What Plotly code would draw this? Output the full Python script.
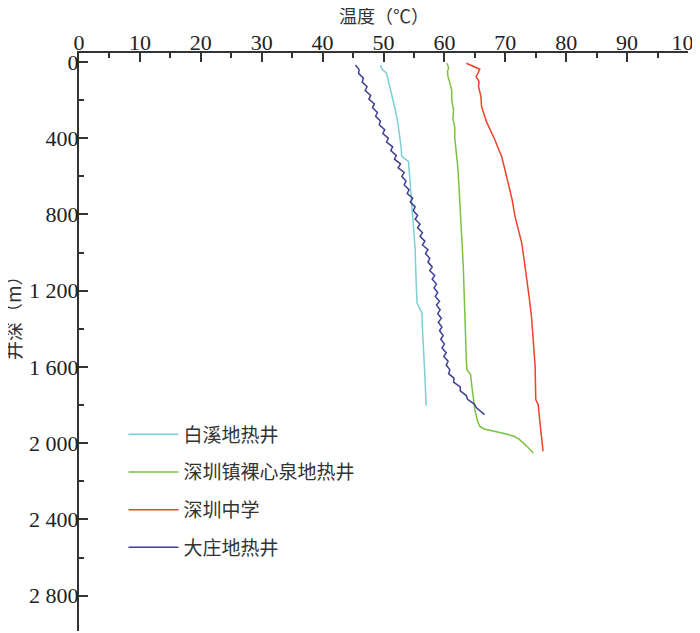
import plotly.graph_objects as go

# 白溪地热井
baixi_depth = [16, 40, 59, 100, 150, 199, 260, 330, 391, 450, 496, 510, 522, 600, 723, 850, 985,
               1100, 1200, 1264, 1290, 1316, 1400, 1509, 1650, 1803]
baixi_temp = [49.5, 49.8, 50.5, 50.8, 51.2, 51.6, 52.0, 52.4, 52.7, 52.9, 53.0, 53.6, 54.1, 54.3, 54.6,
              54.9, 55.2, 55.3, 55.4, 55.5, 55.9, 56.3, 56.4, 56.6, 56.8, 57.0]

# 深圳镇裸心泉地热井
luoxin_depth = [7, 30, 50, 77, 110, 150, 199, 250, 300, 340, 400, 450, 500, 550, 601, 700, 846, 950,
                1073, 1200, 1335, 1450, 1560, 1614, 1640, 1700, 1780, 1824, 1880, 1911, 1925, 1935,
                1950, 1965, 1980, 2015, 2051]
luoxin_temp = [60.4, 60.7, 60.5, 60.6, 60.9, 61.2, 61.2, 61.5, 61.4, 61.7, 61.7, 61.9, 62.0, 62.2, 62.3,
               62.5, 62.8, 62.9, 63.1, 63.2, 63.4, 63.5, 63.6, 63.7, 64.3, 64.5, 64.8, 65.0, 65.4, 65.8,
               66.5, 68.0, 70.0, 71.5, 72.3, 73.5, 74.6]

# 深圳中学
zhongxue_depth = [7, 38, 60, 77, 103, 129, 182, 234, 313, 360, 409, 450, 496, 560, 636, 720, 811, 880,
                  950, 1040, 1125, 1230, 1335, 1460, 1597, 1771, 1798, 1894, 2042]
zhongxue_temp = [63.6, 65.8, 65.5, 65.2, 65.7, 65.6, 66.0, 66.1, 66.9, 67.6, 68.3, 68.8, 69.4, 69.9, 70.5,
                 71.1, 71.6, 72.2, 72.7, 73.1, 73.5, 73.9, 74.3, 74.6, 74.9, 75.0, 75.4, 75.7, 76.2]

# 大庄地热井
dazhuang_depth = [16, 40, 60, 85, 105, 130, 150, 175, 195, 220, 240, 265, 285, 310, 330, 355, 375, 400,
                  420, 445, 465, 490, 510, 535, 555, 580, 600, 625, 645, 670, 690, 715, 735, 760, 780,
                  805, 825, 850, 870, 895, 915, 940, 960, 985, 1005, 1030, 1050, 1075, 1095, 1120,
                  1140, 1165, 1185, 1210, 1230, 1255, 1275, 1300, 1320, 1345, 1365, 1390, 1410, 1435,
                  1455, 1480, 1500, 1525, 1545, 1570, 1590, 1615, 1635, 1660, 1680, 1705, 1725, 1750,
                  1770, 1795, 1815, 1850]
dazhuang_temp = [45.4, 46.0, 45.9, 46.7, 46.5, 47.3, 47.0, 47.9, 47.6, 48.5, 48.2, 49.0, 48.7, 49.5,
                 49.3, 50.2, 49.9, 50.8, 50.5, 51.5, 51.2, 52.1, 51.8, 52.8, 52.4, 53.4, 53.0, 53.7,
                 53.4, 54.2, 53.9, 54.8, 54.4, 55.2, 54.9, 55.6, 55.2, 56.0, 55.6, 56.4, 56.0, 56.8,
                 56.4, 57.3, 56.9, 57.6, 57.3, 58.0, 57.6, 58.4, 58.0, 58.7, 58.3, 58.9, 58.5, 59.2,
                 58.7, 59.3, 58.9, 59.5, 59.0, 59.6, 59.2, 59.8, 59.4, 60.0, 59.6, 60.3, 59.9, 60.6,
                 60.3, 60.9, 60.7, 61.6, 61.5, 62.6, 62.6, 63.6, 63.8, 64.9, 65.3, 66.6]

y_tickvals = [0, 400, 800, 1200, 1600, 2000, 2400, 2800]
y_ticktext = ["0", "400", "800", "1 200", "1 600", "2 000", "2 400", "2 800"]
x_tickvals = [0, 10, 20, 30, 40, 50, 60, 70, 80, 90, 100]

NUM_FONT = "Liberation Serif, Times New Roman, serif"
CJK_FONT = "Noto Sans CJK SC"
AXIS = "#333333"

series = [
    ("白溪地热井", baixi_temp, baixi_depth, "#7dcfd6"),
    ("深圳镇裸心泉地热井", luoxin_temp, luoxin_depth, "#7cc142"),
    ("深圳中学", zhongxue_temp, zhongxue_depth, "#f0412a"),
    ("大庄地热井", dazhuang_temp, dazhuang_depth, "#3f3f95"),
]

fig = go.Figure()
for name, t, d, c in series:
    fig.add_trace(go.Scatter(x=t, y=d, mode="lines", name=name, legendgroup=name,
                             line=dict(color=c, width=1.5)))

# the page body has an 8px margin, so margins are shifted by 8px
fig.update_layout(
    width=700, height=633,
    margin=dict(l=71, r=20, t=45, b=10),
    plot_bgcolor="white", paper_bgcolor="white",
    font=dict(family=NUM_FONT, size=22, color="#222222"),
    showlegend=True,
    legend=dict(x=0.073, y=0.373, xanchor="left", yanchor="top",
                font=dict(family=CJK_FONT, size=19, color="#333333"),
                tracegroupgap=10, itemwidth=50, bgcolor="rgba(0,0,0,0)"),
)

fig.update_xaxes(
    side="top", range=[0, 100], tickvals=x_tickvals, automargin=False,
    showline=True, linecolor=AXIS, linewidth=2, mirror=False,
    ticks="inside", ticklen=9, tickwidth=1.5, tickcolor=AXIS,
    minor=dict(ticks="inside", ticklen=5, dtick=5, tickwidth=1.5, tickcolor=AXIS),
    showgrid=False, zeroline=False, ticklabeloverflow="allow", ticklabelstandoff=-8,
    tickfont=dict(family=NUM_FONT, size=22),
)
fig.update_yaxes(
    range=[2985, -47], tickvals=y_tickvals, ticktext=y_ticktext, automargin=False,
    showline=True, linecolor=AXIS, linewidth=2,
    ticks="inside", ticklen=9, tickwidth=1.5, tickcolor=AXIS,
    minor=dict(ticks="inside", ticklen=5, dtick=200, tickwidth=1.5, tickcolor=AXIS),
    showgrid=False, zeroline=False, ticklabelstandoff=-6,
    tickfont=dict(family=NUM_FONT, size=22),
)

# axis titles
fig.add_annotation(text="温度（℃）", xref="paper", yref="paper",
                   x=0.5, y=1.0, yshift=38, xanchor="center", yanchor="middle",
                   showarrow=False, font=dict(family=CJK_FONT, size=18, color="#333333"))
fig.add_annotation(text="井深（m）", xref="paper", yref="paper",
                   x=0, xshift=-67, y=0.55, xanchor="center", yanchor="middle",
                   textangle=-90, showarrow=False,
                   font=dict(family=CJK_FONT, size=19, color="#333333"))

fig.write_html("out.html")
